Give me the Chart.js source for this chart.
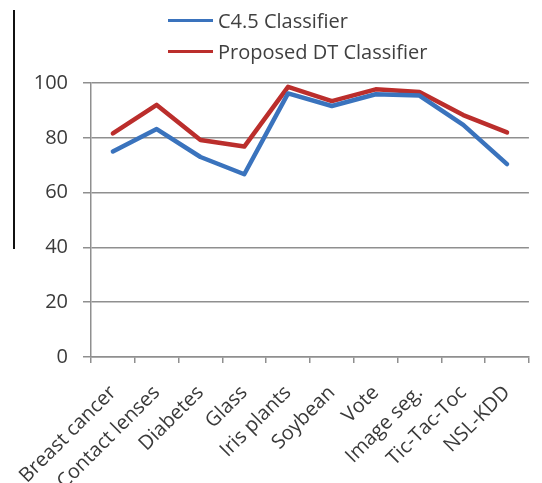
<!DOCTYPE html>
<html>
<head>
<meta charset="utf-8">
<script src="https://cdn.jsdelivr.net/npm/chart.js@4"></script>
<style>
  html, body { margin: 0; padding: 0; background: #fff; overflow: hidden; }
  #wrap { position: relative; width: 542px; height: 483px; }
  #rule { position: absolute; left: 13px; top: 10px; width: 1.5px; height: 239px; background: #111; }
  #legend { position: absolute; left: 168px; top: 5px; font-family: "Open Sans", sans-serif; font-size: 20px; color: #404040; }
  .item { display: flex; align-items: center; height: 31px; }
  .swatch { width: 45px; height: 3px; margin-right: 5px; }
</style>
</head>
<body>
<div id="wrap">
  <canvas id="c" width="542" height="483"></canvas>
  <div id="rule"></div>
  <div id="legend"></div>
</div>
<script>
const categories = ["Breast cancer", "Contact lenses", "Diabetes", "Glass", "Iris plants",
                    "Soybean", "Vote", "Image seg.", "Tic-Tac-Toc", "NSL-KDD"];
const c45Values      = [75, 83.2, 73, 66.7, 96.2, 91.6, 95.9, 95.4, 84.7, 70.4];
const proposedValues = [81.6, 92, 79.2, 76.8, 98.6, 93.4, 97.7, 96.7, 88.3, 82];
const yTicks = [0, 20, 40, 60, 80, 100];

const seriesNames = ["C4.5 Classifier", "Proposed DT Classifier"];
const seriesColors = ["#3a73bd", "#bb2e2c"];

const legendEl = document.getElementById("legend");
seriesNames.forEach((name, i) => {
  const row = document.createElement("div");
  row.className = "item";
  const sw = document.createElement("span");
  sw.className = "swatch";
  sw.style.background = seriesColors[i];
  const tx = document.createElement("span");
  tx.textContent = name;
  row.appendChild(sw);
  row.appendChild(tx);
  legendEl.appendChild(row);
});

const gridColor = "#8f8f8f";
const textColor = "#3a3a3a";

new Chart(document.getElementById("c"), {
  type: "line",
  data: {
    labels: categories,
    datasets: [
      { label: seriesNames[0], data: c45Values, borderColor: seriesColors[0], borderWidth: 4.5,
        pointRadius: 0, tension: 0, fill: false, borderCapStyle: "round", borderJoinStyle: "round" },
      { label: seriesNames[1], data: proposedValues, borderColor: seriesColors[1], borderWidth: 4.5,
        pointRadius: 0, tension: 0, fill: false, borderCapStyle: "round", borderJoinStyle: "round" }
    ]
  },
  options: {
    responsive: false,
    animation: false,
    events: [],
    layout: { padding: { top: 83, right: 0, left: 0, bottom: 0 } },
    plugins: { legend: { display: false }, tooltip: { enabled: false } },
    scales: {
      x: {
        offset: true,
        grid: { offset: true, drawOnChartArea: false, drawTicks: true, tickLength: 6, color: gridColor, lineWidth: 1.5 },
        border: { color: gridColor, width: 1.5 },
        ticks: { color: textColor, font: { family: "Open Sans", size: 20 }, minRotation: 45, maxRotation: 45, padding: 18, autoSkip: false },
        afterFit(scale) { scale.height = 126; }
      },
      y: {
        min: 0, max: 100,
        afterBuildTicks(scale) { scale.ticks = yTicks.map(v => ({ value: v })); },
        grid: { color: gridColor, lineWidth: 1.5, tickLength: 8 },
        border: { color: gridColor, width: 1.5 },
        ticks: { color: textColor, font: { family: "Open Sans", size: 20 }, padding: 15 },
        afterFit(scale) { scale.width = 91; }
      }
    }
  }
});
</script>
</body>
</html>
